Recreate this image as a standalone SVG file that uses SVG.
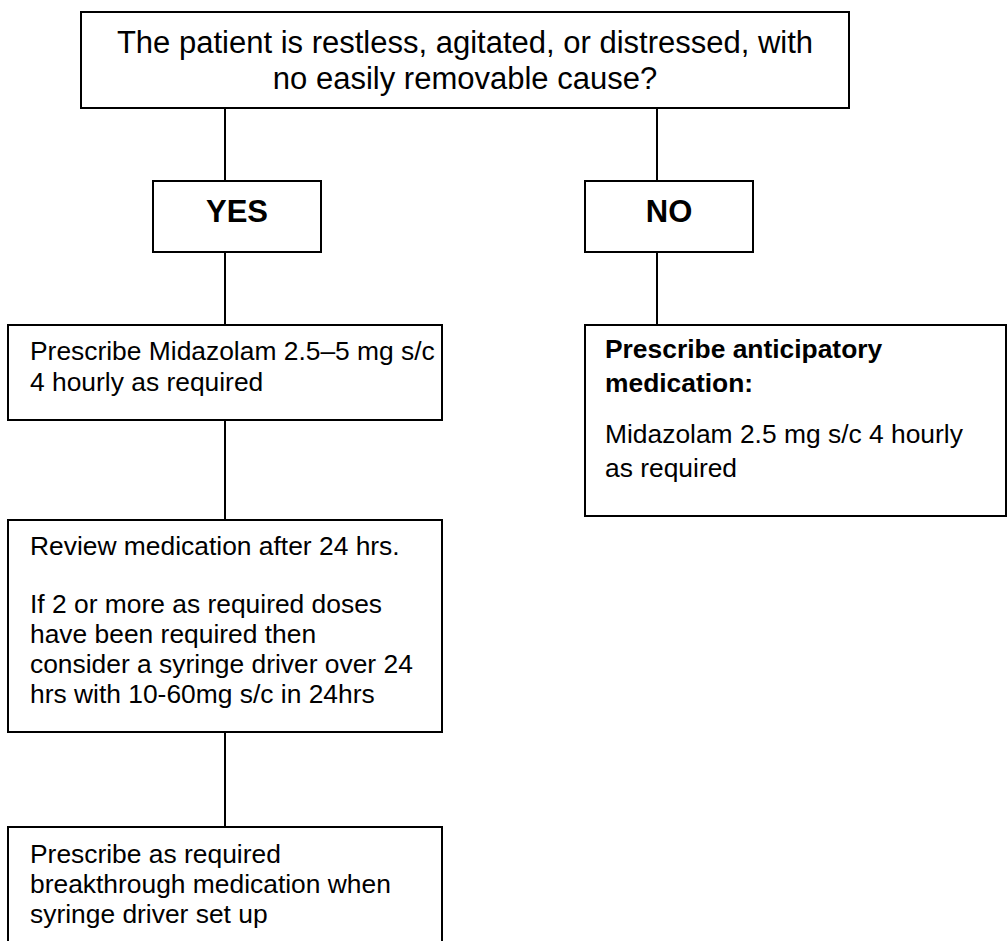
<svg xmlns="http://www.w3.org/2000/svg" width="1007" height="941" viewBox="0 0 1007 941">
<style>
.box{fill:#fff;stroke:#000;stroke-width:2}
.ln{stroke:#000;stroke-width:2;fill:none}
.t{font-family:"Liberation Sans",Arial,sans-serif;font-size:26.4px;fill:#000}
.h{font-family:"Liberation Sans",Arial,sans-serif;font-size:31px;fill:#000}
.b{font-weight:bold}
</style>
<rect width="1007" height="941" fill="#fff"/>
<g id="connectors">
<line class="ln" x1="225" y1="108" x2="225" y2="181"/>
<line class="ln" x1="657" y1="108" x2="657" y2="181"/>
<line class="ln" x1="225" y1="252" x2="225" y2="325"/>
<line class="ln" x1="657" y1="252" x2="657" y2="325"/>
<line class="ln" x1="225" y1="420" x2="225" y2="520"/>
<line class="ln" x1="225" y1="732" x2="225" y2="827"/>
</g>
<g id="question">
<rect class="box" x="81" y="12" width="768" height="96"/>
<text class="h" x="465" y="53" text-anchor="middle">The patient is restless, agitated, or distressed, with</text>
<text class="h" x="465" y="89" text-anchor="middle">no easily removable cause?</text>
</g>
<g id="yes">
<rect class="box" x="153" y="181" width="168" height="71"/>
<text class="h b" x="237" y="222" text-anchor="middle">YES</text>
</g>
<g id="no">
<rect class="box" x="585" y="181" width="168" height="71"/>
<text class="h b" x="669" y="222" text-anchor="middle">NO</text>
</g>
<g id="prescribe-midazolam">
<rect class="box" x="8" y="325" width="434" height="95"/>
<text class="t" x="30" y="360">Prescribe Midazolam 2.5–5 mg s/c</text>
<text class="t" x="30" y="391">4 hourly as required</text>
</g>
<g id="anticipatory">
<rect class="box" x="585" y="325" width="421" height="191"/>
<text class="t b" x="605" y="358">Prescribe anticipatory</text>
<text class="t b" x="605" y="392">medication:</text>
<text class="t" x="605" y="443">Midazolam 2.5 mg s/c 4 hourly</text>
<text class="t" x="605" y="477">as required</text>
</g>
<g id="review">
<rect class="box" x="8" y="520" width="434" height="212"/>
<text class="t" x="30" y="555">Review medication after 24 hrs.</text>
<text class="t" x="30" y="613">If 2 or more as required doses</text>
<text class="t" x="30" y="643">have been required then</text>
<text class="t" x="30" y="673">consider a syringe driver over 24</text>
<text class="t" x="30" y="703">hrs with 10-60mg s/c in 24hrs</text>
</g>
<g id="breakthrough">
<rect class="box" x="8" y="827" width="434" height="200"/>
<text class="t" x="30" y="863">Prescribe as required</text>
<text class="t" x="30" y="893">breakthrough medication when</text>
<text class="t" x="30" y="923">syringe driver set up</text>
</g>
</svg>
